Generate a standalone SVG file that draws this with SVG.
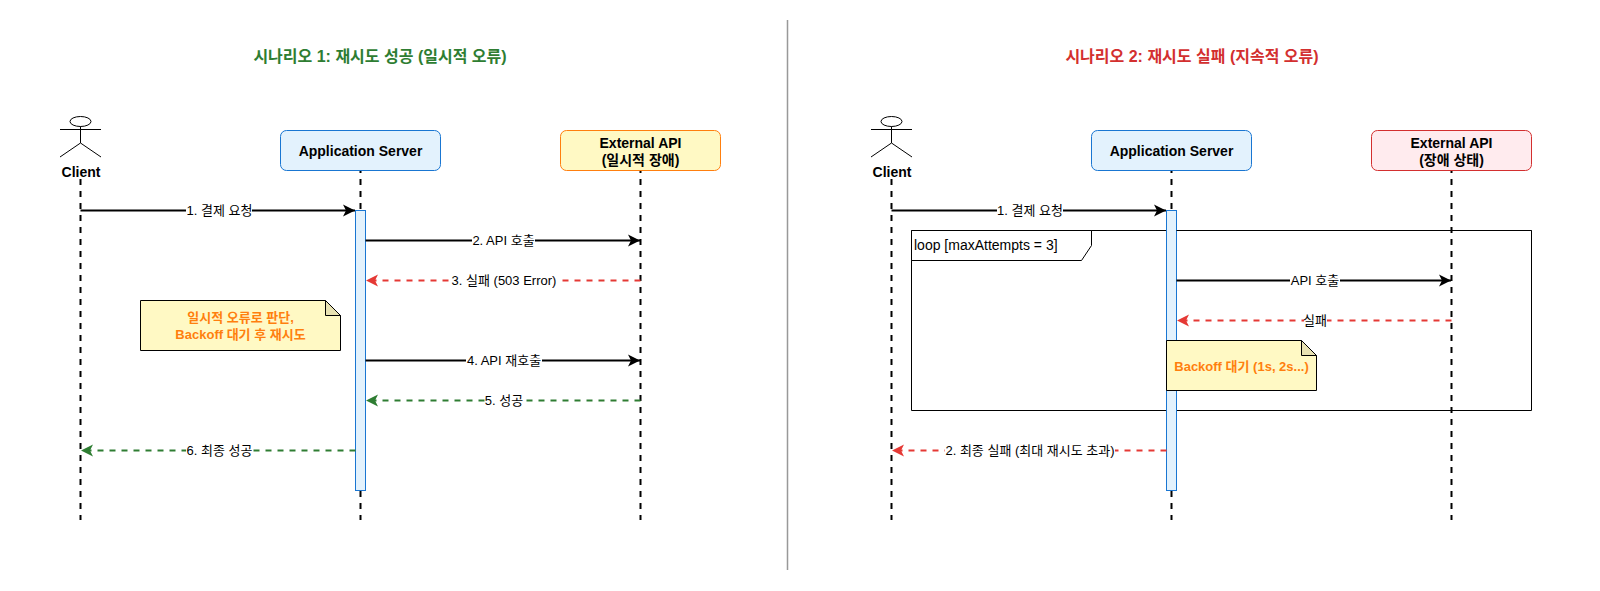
<svg xmlns="http://www.w3.org/2000/svg" width="1600" height="591" viewBox="0 0 1600 591">
<style>
text{font-family:"Liberation Sans","Noto Sans CJK KR",Arial,sans-serif;font-size:13px;fill:#000;text-anchor:middle}
.b{font-weight:bold;font-size:14px}
.t{font-size:16px;font-weight:bold}
.o{fill:#ff7f0e;font-weight:bold}
.life{fill:none;stroke:#000;stroke-width:2;stroke-dasharray:6 6}
.act{fill:#e3f2fd;stroke:#1976d2;stroke-width:1}
.msg{fill:none;stroke:#000;stroke-width:2;marker-end:url(#ak)}
.red{fill:none;stroke:#e53935;stroke-width:2;stroke-dasharray:6 6;marker-end:url(#ar)}
.grn{fill:none;stroke:#2e7d32;stroke-width:2;stroke-dasharray:6 6;marker-end:url(#ag)}
.lbl{fill:#fff}
.note{fill:#fff9c4;stroke:#000;stroke-width:1}
.fold{fill:#e8e2b2;stroke:#000;stroke-width:1}
.actor{fill:none;stroke:#000;stroke-width:1}
</style>
<defs>
<marker id="ak" markerUnits="userSpaceOnUse" markerWidth="14" markerHeight="14" refX="12.500" refY="7" orient="auto"><path d="M0.500 1L12.500 7L0.500 13L3.500 7Z" fill="#000"/></marker>
<marker id="ar" markerUnits="userSpaceOnUse" markerWidth="14" markerHeight="14" refX="12.500" refY="7" orient="auto"><path d="M0.500 1L12.500 7L0.500 13L3.500 7Z" fill="#e53935"/></marker>
<marker id="ag" markerUnits="userSpaceOnUse" markerWidth="14" markerHeight="14" refX="12.500" refY="7" orient="auto"><path d="M0.500 1L12.500 7L0.500 13L3.500 7Z" fill="#2e7d32"/></marker>
</defs>
<rect width="1600" height="591" fill="#fff"/>
<path d="M787.500 20V570" stroke="#999" stroke-width="1.500" fill="none"/>
<text class="t" x="380" y="62" style="fill:#2e7d32">시나리오 1: 재시도 성공 (일시적 오류)</text>
<text class="t" x="1192" y="62" style="fill:#d32f2f">시나리오 2: 재시도 실패 (지속적 오류)</text>
<g id="lifelines">
<path class="life" d="M80.500 179V520M360.500 167V520M640.500 167V520M891.500 179V520M1171.500 167V520M1451.500 167V520"/>
</g>
<g id="loop-frame">
<path d="M911.500 230.500H1531.500V410.500H911.500Z" fill="none" stroke="#000"/>
</g>
<g id="client1">
<ellipse class="actor" cx="80.500" cy="121.500" rx="10.500" ry="5"/>
<path class="actor" d="M80.500 126.500V143M60 129.500H101M80.500 143L60 157M80.500 143L101 157"/>
<text class="b" x="81" y="177">Client</text>
</g>
<g id="server1">
<rect x="280.500" y="130.500" width="160" height="40" rx="6" fill="#e3f2fd" stroke="#1976d2"/>
<text class="b" x="360.500" y="156">Application Server</text>
</g>
<g id="api1">
<rect x="560.500" y="130.500" width="160" height="40" rx="6" fill="#fff9c4" stroke="#ff7f0e"/>
<text class="b" x="640.500" y="148">External API</text>
<text class="b" x="640.500" y="165">(일시적 장애)</text>
</g>
<g id="act1"><rect class="act" x="355.500" y="210.500" width="10" height="280"/></g>
<g id="note1">
<path class="note" d="M140.500 300.500H325.500L340.500 315.500V350.500H140.500Z"/>
<path class="fold" d="M325.500 300.500V315.500H340.500Z"/>
<text class="o" x="240.500" y="322">일시적 오류로 판단,</text>
<text class="o" x="240.500" y="339">Backoff 대기 후 재시도</text>
</g>
<g id="client2">
<ellipse class="actor" cx="891.500" cy="121.500" rx="10.500" ry="5"/>
<path class="actor" d="M891.500 126.500V143M871 129.500H912M891.500 143L871 157M891.500 143L912 157"/>
<text class="b" x="892" y="177">Client</text>
</g>
<g id="server2">
<rect x="1091.500" y="130.500" width="160" height="40" rx="6" fill="#e3f2fd" stroke="#1976d2"/>
<text class="b" x="1171.500" y="156">Application Server</text>
</g>
<g id="api2">
<rect x="1371.500" y="130.500" width="160" height="40" rx="6" fill="#ffebee" stroke="#d32f2f"/>
<text class="b" x="1451.500" y="148">External API</text>
<text class="b" x="1451.500" y="165">(장애 상태)</text>
</g>
<g id="act2"><rect class="act" x="1166.500" y="210.500" width="10" height="280"/></g>
<g id="loop-label">
<path d="M911.500 230.500H1091.500V245.500L1081.500 260.500H911.500Z" fill="#fff" stroke="#000"/>
<path d="M1176.500 230.500H1531.500" stroke="#000"/>
<text x="914" y="250" style="text-anchor:start;font-size:14px">loop [maxAttempts = 3]</text>
</g>
<g id="connectors">
<path class="msg" d="M80.500 210.500H355"/>
<path class="msg" d="M365.500 240.500H640"/>
<path class="red" d="M640.500 280.500H366"/>
<path class="msg" d="M365.500 360.500H640"/>
<path class="grn" d="M640.500 400.500H366"/>
<path class="grn" d="M355.500 450.500H81"/>
<path class="msg" d="M891.500 210.500H1166"/>
<path class="msg" d="M1176.500 280.500H1451"/>
<path class="red" d="M1451.500 320.500H1177"/>
<path class="red" d="M1166.500 450.500H892"/>
<rect class="lbl" x="186" y="203" width="66" height="15"/><text x="219.500" y="215">1. 결제 요청</text>
<rect class="lbl" x="472" y="233" width="63" height="15"/><text x="503.500" y="245">2. API 호출</text>
<rect class="lbl" x="451" y="273" width="106" height="15"/><text x="504" y="285">3. 실패 (503 Error)</text>
<rect class="lbl" x="466" y="353" width="76" height="15"/><text x="504" y="365">4. API 재호출</text>
<rect class="lbl" x="485" y="393" width="38" height="15"/><text x="504" y="405">5. 성공</text>
<rect class="lbl" x="186" y="443" width="66" height="15"/><text x="219.500" y="455">6. 최종 성공</text>
<rect class="lbl" x="997" y="203" width="66" height="15"/><text x="1030" y="215">1. 결제 요청</text>
<rect class="lbl" x="1290" y="273" width="50" height="15"/><text x="1315" y="285">API 호출</text>
<rect class="lbl" x="1304" y="313" width="23" height="15"/><text x="1315" y="325">실패</text>
<rect class="lbl" x="945" y="443" width="170" height="15"/><text x="1030" y="455">2. 최종 실패 (최대 재시도 초과)</text>
</g>
<g id="note2">
<path class="note" d="M1166.500 340.500H1301.500L1316.500 355.500V390.500H1166.500Z"/>
<path class="fold" d="M1301.500 340.500V355.500H1316.500Z"/>
<text class="o" x="1241.500" y="371">Backoff 대기 (1s, 2s...)</text>
</g>
</svg>
